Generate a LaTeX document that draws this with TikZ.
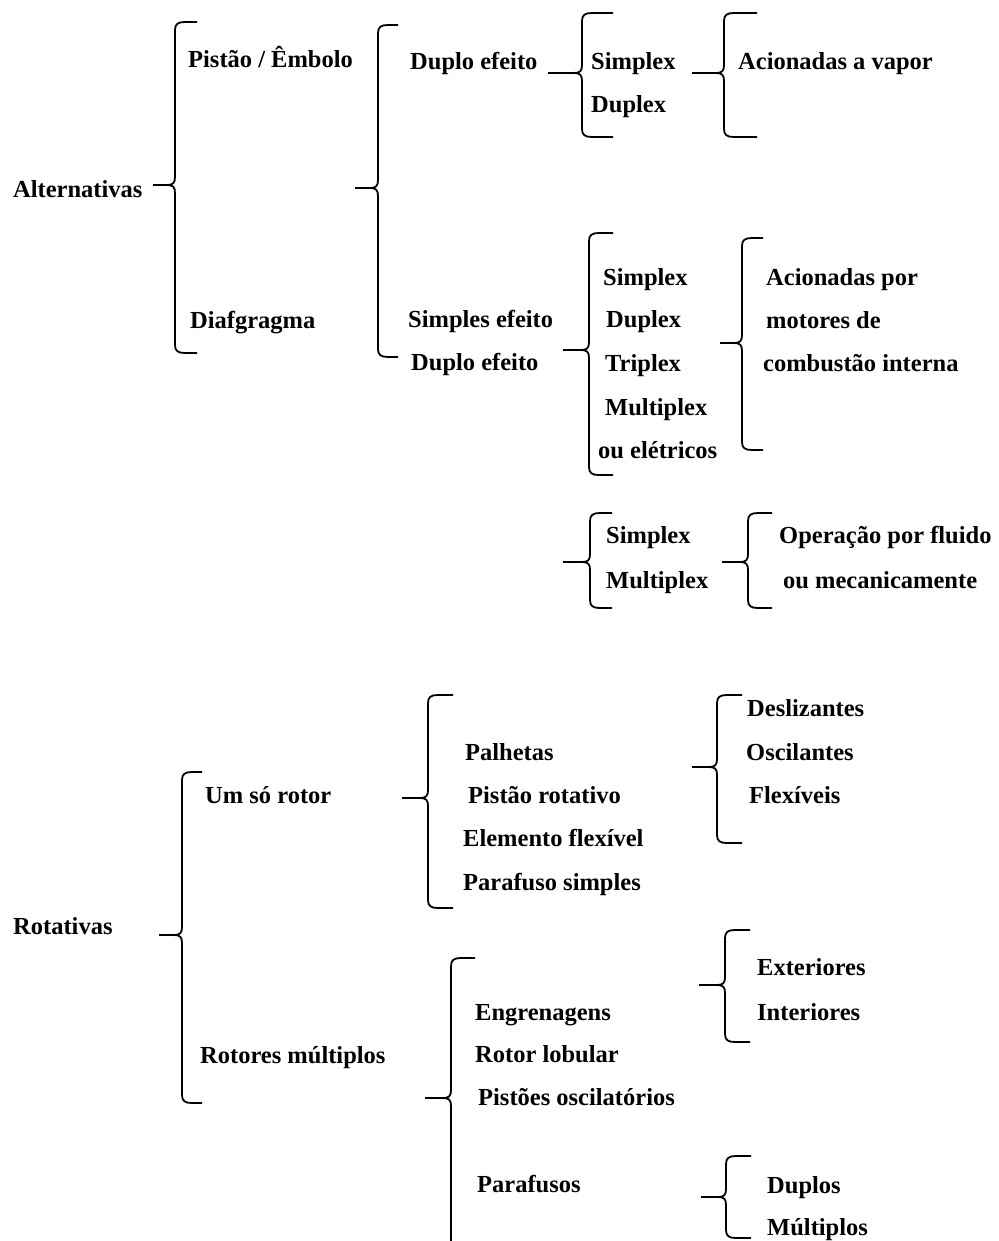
\documentclass[tikz,border=0pt]{standalone}
\usepackage{fontspec}
\setmainfont{Liberation Serif}
\usepackage{tikz}

% #1 x, #2 top, #3 bottom, #4 tip y, #5 tip x, #6 hook x
\newcommand{\curlybrace}[6]{%
  \draw[brace line] (#6,#2) -- (#1+10,#2) .. controls (#1+3,#2) and (#1,#2+2) .. (#1,#2+8)
    -- (#1,#4-8) .. controls (#1,#4-2) and (#1-2,#4) .. (#1-8,#4) -- (#5,#4)
    (#5,#4) -- (#1-8,#4) .. controls (#1-2,#4) and (#1,#4+2) .. (#1,#4+8)
    -- (#1,#3-8) .. controls (#1,#3-2) and (#1+3,#3) .. (#1+10,#3) -- (#6,#3);}

\begin{document}
\begin{tikzpicture}[x=1pt,y=-1pt,
    brace line/.style={line width=1.8pt,line join=round},
    lbl/.style={anchor=west,inner sep=0pt,text height=19pt,text depth=3pt,
      font=\fontsize{24.5}{28}\selectfont\bfseries}]
    \useasboundingbox (0,0) rectangle (998,1241);

    \node[lbl] (alt) at (13,190) {Alternativas};
    \node[lbl] (piston) at (188,60) {Pistão / Êmbolo};
    \node[lbl] (diaf) at (190,320) {Diafgragma};
    \node[lbl] (dupA) at (410,62) {Duplo efeito};
    \node[lbl] (simpEf) at (408,319) {Simples efeito};
    \node[lbl] (dupB) at (411,362) {Duplo efeito};
    \node[lbl] (sxA) at (591,62) {Simplex};
    \node[lbl] (dxA) at (591,105) {Duplex};
    \node[lbl] (vapor) at (738,62) {Acionadas a vapor};
    \node[lbl] (sxB) at (603,277) {Simplex};
    \node[lbl] (dxB) at (606,319) {Duplex};
    \node[lbl] (txB) at (605,363) {Triplex};
    \node[lbl] (mxB) at (605,407) {Multiplex};
    \node[lbl] (eleB) at (598,450) {ou elétricos};
    \node[lbl] (combA) at (766,277) {Acionadas por};
    \node[lbl] (combB) at (766,320) {motores de};
    \node[lbl] (combC) at (763,363) {combustão interna};
    \node[lbl] (sxC) at (606,535) {Simplex};
    \node[lbl] (mxC) at (606,580) {Multiplex};
    \node[lbl] (fluA) at (779,535) {Operação por fluido};
    \node[lbl] (fluB) at (783,580) {ou mecanicamente};

    \node[lbl] (rot) at (13,926) {Rotativas};
    \node[lbl] (um) at (205,795) {Um só rotor};
    \node[lbl] (mult) at (200,1055) {Rotores múltiplos};
    \node[lbl] (palh) at (465,752) {Palhetas};
    \node[lbl] (pistRot) at (468,795) {Pistão rotativo};
    \node[lbl] (elem) at (463,838) {Elemento flexível};
    \node[lbl] (parS) at (463,882) {Parafuso simples};
    \node[lbl] (desl) at (747,708) {Deslizantes};
    \node[lbl] (osc) at (746,752) {Oscilantes};
    \node[lbl] (flex) at (749,795) {Flexíveis};
    \node[lbl] (engr) at (475,1012) {Engrenagens};
    \node[lbl] (lob) at (475,1054) {Rotor lobular};
    \node[lbl] (pistOsc) at (478,1097) {Pistões oscilatórios};
    \node[lbl] (paraf) at (477,1184) {Parafusos};
    \node[lbl] (ext) at (757,967) {Exteriores};
    \node[lbl] (int) at (757,1012) {Interiores};
    \node[lbl] (dupl) at (767,1185) {Duplos};
    \node[lbl] (multi) at (767,1227) {Múltiplos};

    \curlybrace{175}{22}{353}{185}{153}{197}
    \curlybrace{378}{25}{357}{188}{355}{398}
    \curlybrace{582}{13}{137}{73}{548}{613}
    \curlybrace{724}{13}{137}{73}{692}{757}
    \curlybrace{589}{233}{475}{350}{563}{613}
    \curlybrace{742}{238}{450}{343}{720}{763}
    \curlybrace{590}{513}{608}{562}{563}{612}
    \curlybrace{748}{513}{608}{562}{722}{772}
    \curlybrace{182}{772}{1103}{935}{159}{202}
    \curlybrace{428}{695}{908}{798}{402}{453}
    \curlybrace{717}{695}{843}{767}{692}{742}
    \curlybrace{451}{958}{1252}{1098}{425}{475}
    \curlybrace{725}{930}{1042}{985}{699}{750}
    \curlybrace{726}{1156}{1238}{1197}{701}{751}
\end{tikzpicture}
\end{document}
